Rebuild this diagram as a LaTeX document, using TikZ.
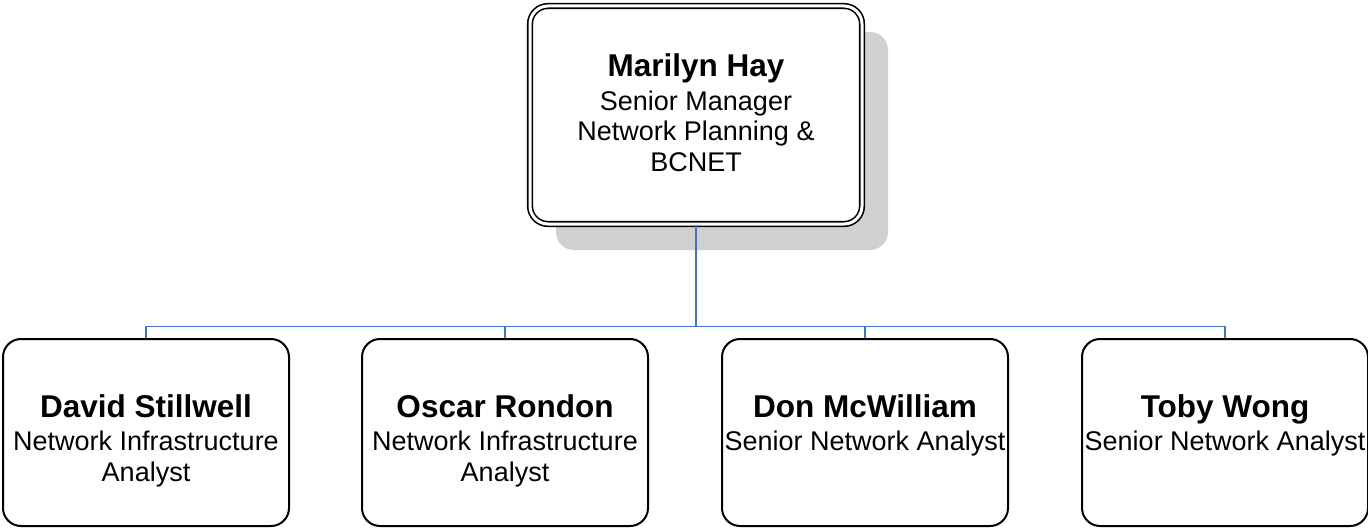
\documentclass[tikz,border=0pt]{standalone}
\usepackage{fontspec}
\setmainfont{Liberation Sans}
\usetikzlibrary{shadows}
\definecolor{linkblue}{HTML}{4472C4}
\definecolor{shadowgray}{HTML}{D0D0D0}
\newcommand{\pname}[1]{{\fontsize{15.75}{15.25}\selectfont\bfseries #1}}
\newcommand{\pcard}[2]{\begin{tabular}[t]{@{}c@{}}\pname{#1}\\[1.5pt]#2\end{tabular}}
\tikzset{
  person/.style={draw, fill=white, line width=1pt, rounded corners=9pt, inner sep=0pt,
    minimum width=143pt, text height=39pt, text depth=54.5pt,
    font={\fontsize{13.5}{15.25}\selectfont}},
  head/.style={person, double, line width=0.8pt, double distance=1.5pt,
    minimum width=166pt, text height=35.5pt, text depth=73.5pt,
    drop shadow={shadow xshift=13pt, shadow yshift=-13pt, fill=shadowgray, opacity=1}},
  link/.style={line width=0.75pt, color=linkblue}
}

\begin{document}
\begin{tikzpicture}[x=0.5pt, y=-0.5pt]
\useasboundingbox (0,0) rectangle (1368,529);
% manager
\node[head] (hay) at (696,115) {\pcard{Marilyn Hay}{Senior Manager\\Network Planning \&\\BCNET}};
% staff
\node[person] (david) at (146,432.5) {\pcard{David Stillwell}{Network Infrastructure\\Analyst}};
\node[person] (oscar) at (505,432.5) {\pcard{Oscar Rondon}{Network Infrastructure\\Analyst}};
\node[person] (don) at (865,432.5) {\pcard{Don McWilliam}{Senior Network Analyst}};
\node[person] (toby) at (1225,432.5) {\pcard{Toby Wong}{Senior Network Analyst}};
% connectors
\coordinate (bus) at (696,326.5);
\draw[link] (hay.south) -- (hay.south |- bus);
\foreach \who in {david,oscar,don,toby}
  \draw[link] (hay.south |- bus) -| (\who.north);
\end{tikzpicture}
\end{document}
